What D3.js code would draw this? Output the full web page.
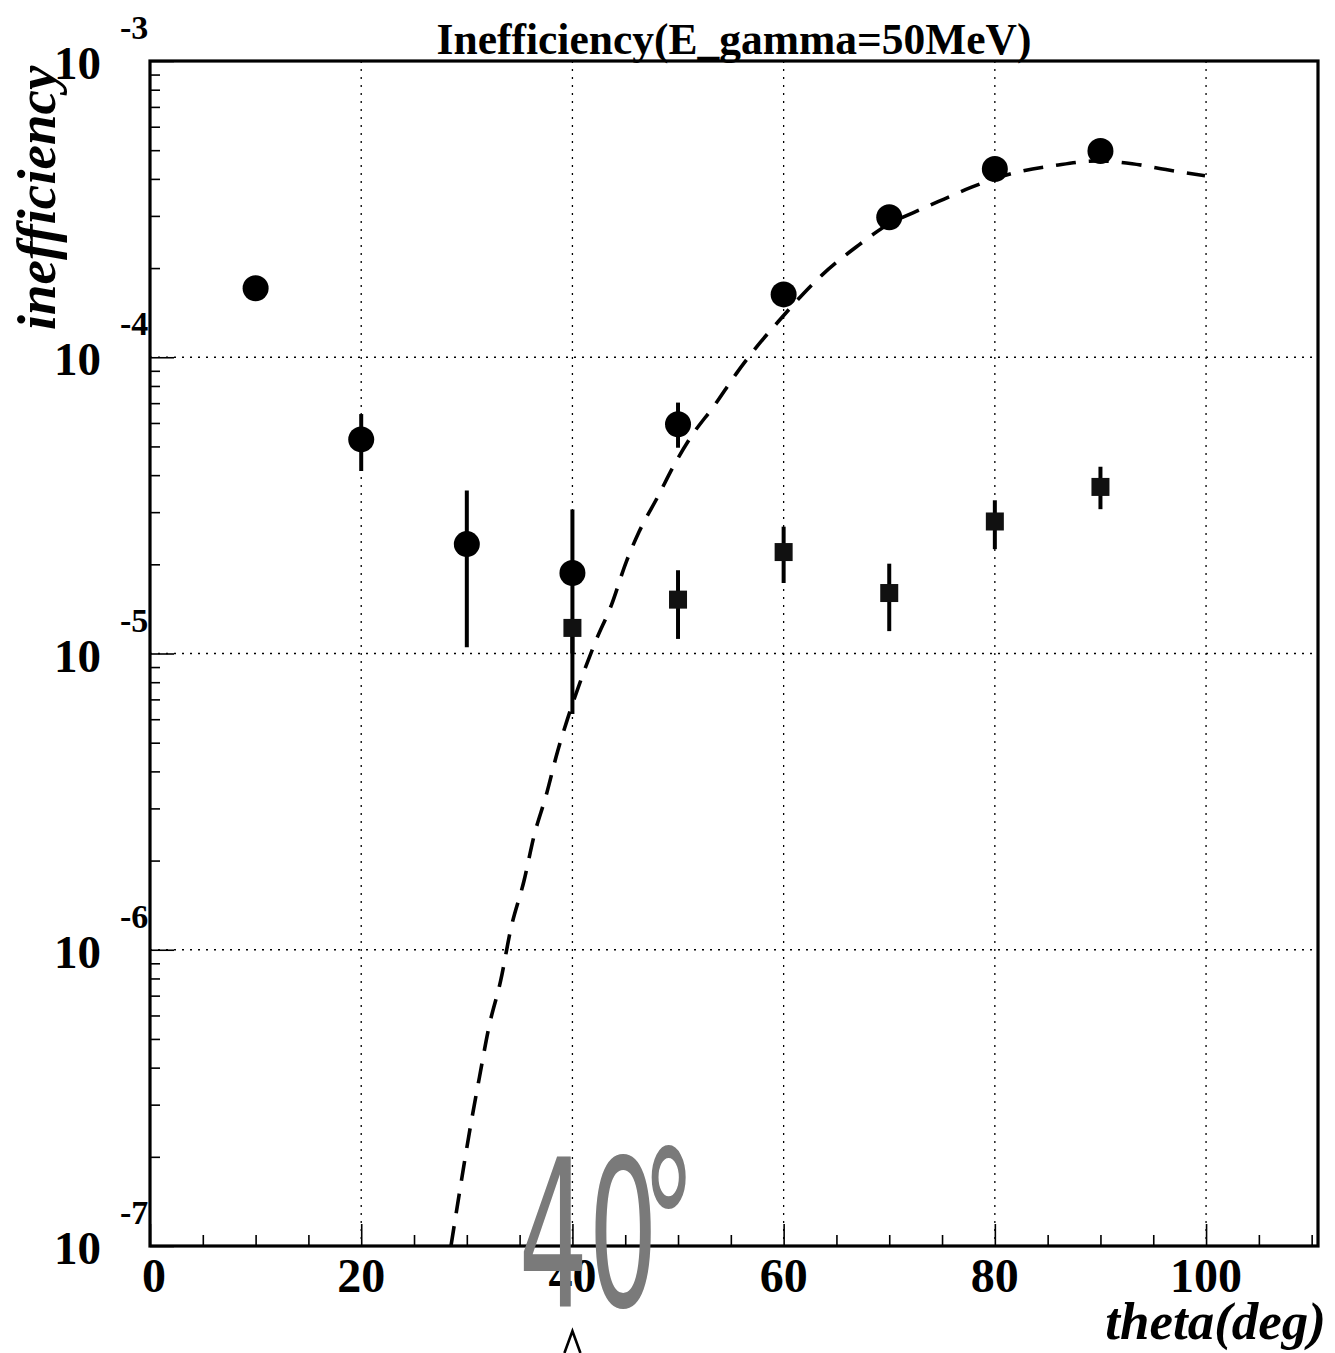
<!DOCTYPE html>
<html lang="en">
<head>
  <meta charset="UTF-8">
  <title>Inefficiency(E_gamma=50MeV)</title>
  <style>
    * {box-sizing: border-box;}
    html, body {
      margin: 0;
      padding: 0;
      background: #fff;
    }
    svg { display: block; }
    .serif { font-family: "Liberation Serif", "Times New Roman", serif; font-weight: bold; }
  </style>
</head>
<body>
  <svg id="chart"></svg>

  <script src="https://cdnjs.cloudflare.com/ajax/libs/d3/7.8.5/d3.min.js"></script>
  <script>
    // measured points (theta in deg)
    const theta = [10, 20, 30, 40, 50, 60, 70, 80, 90]
    const circleVal = [1.71e-4, 5.28e-5, 2.34e-5, 1.87e-5, 5.94e-5, 1.63e-4, 2.97e-4, 4.32e-4, 4.97e-4]
    const circleLo  = [1.62e-4, 4.13e-5, 1.05e-5, 1.00e-5, 4.95e-5, 1.55e-4, 2.85e-4, 4.20e-4, 4.85e-4]
    const circleHi  = [1.80e-4, 6.43e-5, 3.55e-5, 3.06e-5, 7.03e-5, 1.72e-4, 3.10e-4, 4.45e-4, 5.10e-4]

    const thetaSq = [40, 50, 60, 70, 80, 90]
    const squareVal = [1.22e-5, 1.52e-5, 2.20e-5, 1.60e-5, 2.79e-5, 3.65e-5]
    const squareLo  = [6.25e-6, 1.12e-5, 1.73e-5, 1.19e-5, 2.25e-5, 3.07e-5]
    const squareHi  = [1.30e-5, 1.91e-5, 2.68e-5, 2.01e-5, 3.29e-5, 4.27e-5]

    // dashed model curve
    const curveTheta = [28.5, 29.3, 30.4, 31.2, 32.1, 33.2, 34.2, 35.4, 36.4, 37.5, 38.6, 39.5,
      40.9, 42.2, 43.7, 45.1, 46.3, 48.1, 49.7, 51.2, 53.5, 55.5, 57.5, 59.5, 61.8, 63.6,
      66.9, 70.0, 72.3, 75.2, 77.8, 81.7, 85.7, 89.7, 93.0, 96.2, 99.9]
    const curveVal = [1.00e-7, 1.51e-7, 2.60e-7, 3.72e-7, 5.50e-7, 7.85e-7, 1.19e-6, 1.70e-6, 2.45e-6,
      3.31e-6, 4.68e-6, 5.96e-6, 8.32e-6, 1.10e-5, 1.46e-5, 2.04e-5, 2.57e-5, 3.39e-5, 4.37e-5,
      5.37e-5, 6.92e-5, 8.79e-5, 1.09e-4, 1.32e-4, 1.63e-4, 1.89e-4, 2.36e-4, 2.82e-4, 3.08e-4,
      3.42e-4, 3.75e-4, 4.18e-4, 4.44e-4, 4.60e-4, 4.50e-4, 4.30e-4, 4.10e-4]

    const xTickLabels = [0, 20, 40, 60, 80, 100]
    const decades = [-7, -6, -5, -4, -3]

    ;(function main () {
      const W = 1335, H = 1353
      const pLeft = 150, pRight = 1318, pTop = 61, pBottom = 1246

      const x = d3.scaleLinear().domain([0, 110.6]).range([pLeft, pRight])
      const y = d3.scaleLog().domain([1e-7, 1e-3]).range([pBottom, pTop])

      const svg = d3.select('#chart').attr('width', W).attr('height', H)

      // grid
      const grid = svg.append('g')
        .attr('stroke', '#000').attr('stroke-width', 1.3).attr('stroke-dasharray', '2,6')
      grid.selectAll('line.v').data(xTickLabels.filter(d => d > 0))
        .enter().append('line')
        .attr('x1', d => x(d)).attr('x2', d => x(d))
        .attr('y1', pTop).attr('y2', pBottom)
      grid.selectAll('line.h').data(decades.slice(1, -1))
        .enter().append('line')
        .attr('x1', pLeft).attr('x2', pRight)
        .attr('y1', d => y(Math.pow(10, d))).attr('y2', d => y(Math.pow(10, d)))

      // x axis ticks
      const xAxis = svg.append('g')
        .attr('transform', `translate(0,${pBottom})`)
        .call(d3.axisBottom(x).tickValues(d3.range(0, 111, 5)).tickSize(-11).tickFormat('').tickSizeOuter(0))
      xAxis.select('.domain').remove()
      xAxis.selectAll('.tick line')
        .attr('stroke-width', 1.6)
        .attr('y2', d => d % 20 === 0 ? -22 : -11)

      svg.append('g').attr('class', 'serif')
        .selectAll('text').data(xTickLabels)
        .enter().append('text')
        .attr('x', d => x(d) + (d === 0 ? 4 : 0))
        .attr('y', 1292)
        .attr('text-anchor', 'middle')
        .attr('font-size', 48)
        .text(d => d)

      // y axis ticks (log minor)
      const yTicks = []
      decades.forEach(e => {
        for (let m = 1; m <= 9; m++) {
          const v = m * Math.pow(10, e)
          if (v <= 1e-3 + 1e-12) yTicks.push(v)
        }
      })
      const yAxis = svg.append('g')
        .attr('transform', `translate(${pLeft},0)`)
        .call(d3.axisLeft(y).tickValues(yTicks).tickSize(-10).tickFormat('').tickSizeOuter(0))
      yAxis.select('.domain').remove()
      yAxis.selectAll('.tick line')
        .attr('stroke-width', 1.6)
        .attr('x2', d => Math.abs(Math.log10(d) - Math.round(Math.log10(d))) < 1e-6 ? 24 : 10)

      const yLab = svg.append('g').attr('class', 'serif')
      decades.forEach(e => {
        const yy = y(Math.pow(10, e))
        yLab.append('text')
          .attr('x', 101).attr('y', yy + 18)
          .attr('text-anchor', 'end').attr('font-size', 47)
          .text('10')
        yLab.append('text')
          .attr('x', 120).attr('y', yy - 22)
          .attr('font-size', 34)
          .text(String(e))
      })

      // frame
      svg.append('rect')
        .attr('x', pLeft).attr('y', pTop)
        .attr('width', pRight - pLeft).attr('height', pBottom - pTop)
        .attr('fill', 'none').attr('stroke', '#000').attr('stroke-width', 3.2)

      // dashed curve
      const line = d3.line()
        .x((d, i) => x(d))
        .y((d, i) => y(curveVal[i]))
        .curve(d3.curveMonotoneX)
      svg.append('path')
        .datum(curveTheta)
        .attr('d', line)
        .attr('fill', 'none')
        .attr('stroke', '#000')
        .attr('stroke-width', 3.6)
        .attr('stroke-dasharray', '20,13')

      // circles with error bars
      const circ = svg.append('g')
      circ.selectAll('line').data(theta)
        .enter().append('line')
        .attr('x1', d => x(d)).attr('x2', d => x(d))
        .attr('y1', (d, i) => y(circleLo[i])).attr('y2', (d, i) => y(circleHi[i]))
        .attr('stroke', '#000').attr('stroke-width', 4)
      circ.selectAll('circle').data(theta)
        .enter().append('circle')
        .attr('cx', d => x(d))
        .attr('cy', (d, i) => y(circleVal[i]))
        .attr('r', 13)
        .attr('fill', '#000')

      // squares with error bars
      const sq = svg.append('g')
      sq.selectAll('line').data(thetaSq)
        .enter().append('line')
        .attr('x1', d => x(d)).attr('x2', d => x(d))
        .attr('y1', (d, i) => y(squareLo[i])).attr('y2', (d, i) => y(squareHi[i]))
        .attr('stroke', '#000').attr('stroke-width', 4)
      sq.selectAll('rect').data(thetaSq)
        .enter().append('rect')
        .attr('x', d => x(d) - 9)
        .attr('y', (d, i) => y(squareVal[i]) - 9)
        .attr('width', 18).attr('height', 18)
        .attr('fill', '#111')

      // title + axis titles
      svg.append('text').attr('class', 'serif')
        .attr('x', 734).attr('y', 54)
        .attr('text-anchor', 'middle')
        .attr('font-size', 43.5)
        .text('Inefficiency(E_gamma=50MeV)')

      svg.append('text').attr('class', 'serif')
        .attr('transform', 'translate(55,198) rotate(-90)')
        .attr('text-anchor', 'middle')
        .attr('font-size', 55)
        .attr('font-style', 'italic')
        .text('inefficiency')

      svg.append('text').attr('class', 'serif')
        .attr('x', 1326).attr('y', 1339)
        .attr('text-anchor', 'end')
        .attr('font-size', 53)
        .attr('font-style', 'italic')
        .text('theta(deg)')

      // handwritten note marking 40 deg
      const note = svg.append('text')
        .attr('transform', `translate(${x(40) - 54},1306) scale(0.56,1.05)`)
        .attr('font-family', 'DejaVu Sans')
        .attr('font-size', 196)
        .attr('fill', '#7a7a7a')
      note.append('tspan').text('40')
      note.append('tspan').attr('dx', -30).attr('dy', -8).text('°')
      svg.append('path')
        .attr('d', `M${x(40) - 8},1353 L${x(40)},1331 L${x(40) + 8},1353`)
        .attr('fill', 'none').attr('stroke', '#000').attr('stroke-width', 2.6)
    })()
  </script>
</body>
</html>
